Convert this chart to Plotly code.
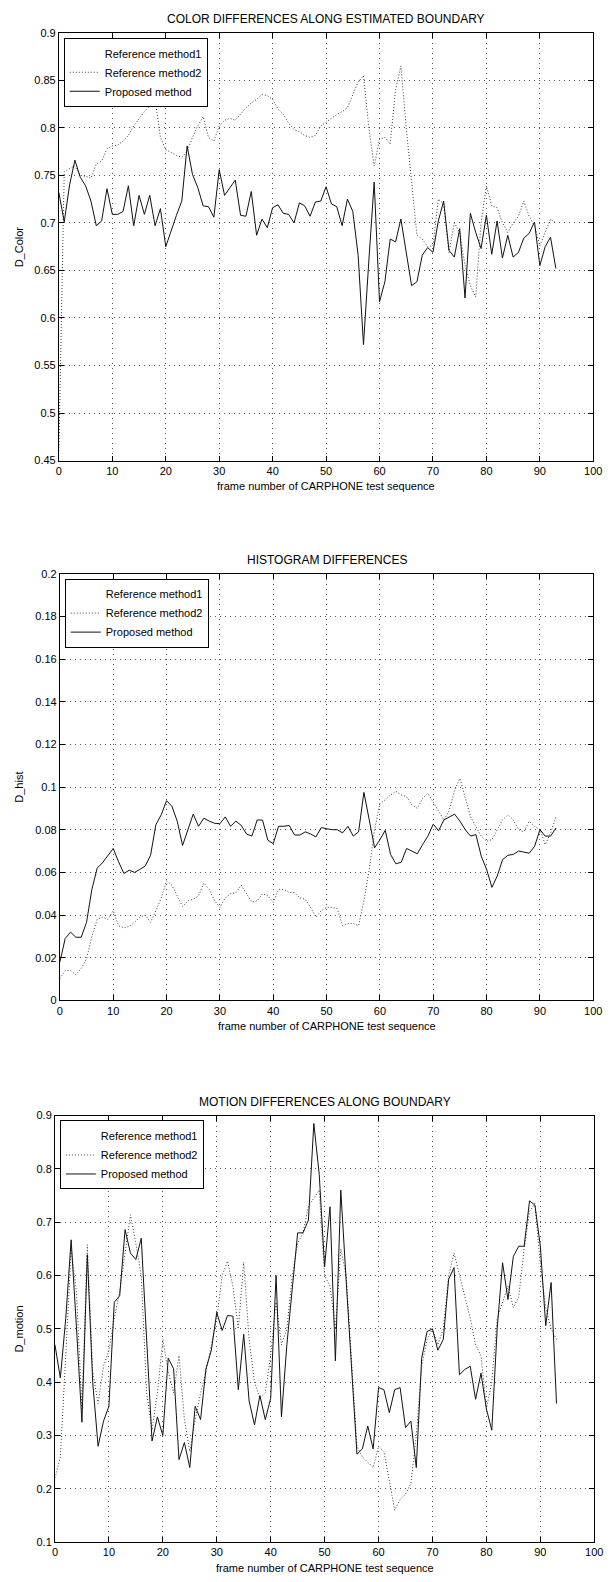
import plotly.graph_objects as go

frames = list(range(94))

color_prop = [0.732, 0.701, 0.740, 0.766, 0.748, 0.739, 0.723, 0.697, 0.702, 0.736,
              0.709, 0.709, 0.712, 0.739, 0.697, 0.729, 0.709, 0.729, 0.697, 0.715,
              0.675, 0.692, 0.708, 0.723, 0.781, 0.751, 0.737, 0.718, 0.717, 0.706,
              0.756, 0.729, 0.737, 0.745, 0.708, 0.707, 0.733, 0.687, 0.704, 0.695,
              0.716, 0.719, 0.710, 0.709, 0.700, 0.721, 0.718, 0.707, 0.722, 0.723,
              0.738, 0.720, 0.717, 0.697, 0.725, 0.712, 0.666, 0.572, 0.660, 0.743,
              0.617, 0.638, 0.683, 0.680, 0.704, 0.669, 0.634, 0.638, 0.666, 0.674,
              0.669, 0.702, 0.723, 0.671, 0.664, 0.694, 0.621, 0.710, 0.690, 0.673,
              0.708, 0.667, 0.702, 0.663, 0.687, 0.664, 0.669, 0.684, 0.689, 0.701,
              0.655, 0.675, 0.685, 0.652]
color_ref2 = [0.460, 0.754, 0.757, 0.760, 0.750, 0.749, 0.747, 0.762, 0.765, 0.778,
              0.781, 0.782, 0.786, 0.792, 0.802, 0.810, 0.817, 0.823, 0.830, 0.790,
              0.777, 0.774, 0.771, 0.769, 0.775, 0.790, 0.802, 0.812, 0.790, 0.786,
              0.802, 0.808, 0.810, 0.808, 0.815, 0.821, 0.826, 0.830, 0.835, 0.834,
              0.830, 0.820, 0.814, 0.805, 0.798, 0.796, 0.792, 0.790, 0.792, 0.802,
              0.806, 0.810, 0.814, 0.817, 0.821, 0.835, 0.848, 0.855, 0.800, 0.760,
              0.788, 0.790, 0.783, 0.840, 0.865, 0.800, 0.740, 0.687, 0.683, 0.675,
              0.676, 0.725, 0.720, 0.669, 0.700, 0.690, 0.655, 0.634, 0.622, 0.700,
              0.739, 0.718, 0.716, 0.700, 0.690, 0.700, 0.707, 0.723, 0.707, 0.697,
              0.676, 0.690, 0.704, 0.700]

hist_prop = [0.018, 0.029, 0.032, 0.0296, 0.0296, 0.0366, 0.052, 0.062, 0.0645, 0.0676,
             0.0712, 0.065, 0.0595, 0.061, 0.060, 0.0614, 0.063, 0.068, 0.0823, 0.087,
             0.0936, 0.091, 0.084, 0.0726, 0.080, 0.0873, 0.0816, 0.0854, 0.084, 0.083,
             0.0828, 0.086, 0.0816, 0.084, 0.082, 0.078, 0.077, 0.0846, 0.0845, 0.075,
             0.0735, 0.0816, 0.0816, 0.082, 0.0775, 0.0775, 0.079, 0.078, 0.0766, 0.081,
             0.0805, 0.080, 0.080, 0.0785, 0.0816, 0.077, 0.079, 0.0975, 0.0846, 0.0715,
             0.0753, 0.0797, 0.0684, 0.064, 0.0648, 0.0712, 0.070, 0.0687, 0.073, 0.077,
             0.0826, 0.0795, 0.0846, 0.086, 0.0873, 0.084, 0.080, 0.077, 0.0777, 0.0676,
             0.0614, 0.053, 0.0583, 0.066, 0.068, 0.0684, 0.070, 0.0695, 0.069, 0.0722,
             0.080, 0.077, 0.077, 0.0808]
hist_ref2 = [0.0102, 0.014, 0.014, 0.012, 0.015, 0.0195, 0.030, 0.038, 0.039, 0.038,
             0.042, 0.035, 0.034, 0.0347, 0.0366, 0.039, 0.040, 0.0366, 0.042, 0.048,
             0.056, 0.054, 0.049, 0.044, 0.0467, 0.0474, 0.049, 0.055, 0.052, 0.0467,
             0.0436, 0.048, 0.050, 0.0505, 0.054, 0.050, 0.046, 0.0467, 0.050, 0.049,
             0.046, 0.052, 0.052, 0.0505, 0.0505, 0.048, 0.0474, 0.0436, 0.039, 0.042,
             0.0436, 0.0436, 0.043, 0.035, 0.036, 0.036, 0.035, 0.0467, 0.0614, 0.080,
             0.0924, 0.094, 0.0963, 0.098, 0.0963, 0.0955, 0.0916, 0.090, 0.0947, 0.097,
             0.093, 0.089, 0.0846, 0.089, 0.0986, 0.104, 0.0955, 0.086, 0.0815, 0.077,
             0.0746, 0.0753, 0.080, 0.0846, 0.087, 0.0846, 0.080, 0.079, 0.084, 0.0815,
             0.080, 0.073, 0.0785, 0.086]

motion_prop = [0.47, 0.408, 0.52, 0.667, 0.50, 0.325, 0.639, 0.40, 0.28, 0.327,
               0.355, 0.55, 0.562, 0.686, 0.642, 0.630, 0.670, 0.47, 0.29, 0.335,
               0.30, 0.445, 0.425, 0.255, 0.287, 0.24, 0.355, 0.33, 0.425, 0.46,
               0.531, 0.497, 0.525, 0.524, 0.386, 0.49, 0.365, 0.32, 0.375, 0.33,
               0.37, 0.60, 0.335, 0.47, 0.57, 0.68, 0.68, 0.704, 0.885, 0.79,
               0.617, 0.729, 0.44, 0.76, 0.59, 0.42, 0.265, 0.275, 0.318, 0.275,
               0.39, 0.386, 0.343, 0.386, 0.39, 0.315, 0.327, 0.24, 0.445, 0.495,
               0.50, 0.46, 0.48, 0.593, 0.615, 0.414, 0.424, 0.43, 0.368, 0.417,
               0.35, 0.31, 0.50, 0.624, 0.555, 0.636, 0.655, 0.655, 0.74, 0.732,
               0.655, 0.506, 0.587, 0.36]
motion_ref2 = [0.22, 0.26, 0.45, 0.65, 0.568, 0.35, 0.658, 0.42, 0.36, 0.43,
               0.46, 0.52, 0.57, 0.64, 0.714, 0.66, 0.60, 0.38, 0.31, 0.38,
               0.48, 0.42, 0.38, 0.45, 0.33, 0.27, 0.33, 0.38, 0.42, 0.47,
               0.52, 0.60, 0.627, 0.58, 0.50, 0.625, 0.48, 0.40, 0.37, 0.38,
               0.45, 0.55, 0.47, 0.50, 0.60, 0.66, 0.68, 0.73, 0.745, 0.76,
               0.60, 0.58, 0.50, 0.65, 0.60, 0.45, 0.28, 0.26, 0.25, 0.24,
               0.28, 0.27, 0.215, 0.16, 0.18, 0.19, 0.21, 0.30, 0.43, 0.48,
               0.50, 0.47, 0.50, 0.60, 0.642, 0.60, 0.56, 0.52, 0.47, 0.45,
               0.35, 0.40, 0.52, 0.55, 0.58, 0.54, 0.56, 0.65, 0.72, 0.735,
               0.62, 0.54, 0.50, 0.48]

# Reference method1 appears only in the legend (no visible curve in the figure)
ref1_x = [None]
ref1_y = [None]

x_ticks = [0, 10, 20, 30, 40, 50, 60, 70, 80, 90, 100]
y1_ticks = [0.45, 0.5, 0.55, 0.6, 0.65, 0.7, 0.75, 0.8, 0.85, 0.9]
y1_text = ["0.45", "0.5", "0.55", "0.6", "0.65", "0.7", "0.75", "0.8", "0.85", "0.9"]
y2_ticks = [0, 0.02, 0.04, 0.06, 0.08, 0.1, 0.12, 0.14, 0.16, 0.18, 0.2]
y2_text = ["0", "0.02", "0.04", "0.06", "0.08", "0.1", "0.12", "0.14", "0.16", "0.18", "0.2"]
y3_ticks = [0.1, 0.2, 0.3, 0.4, 0.5, 0.6, 0.7, 0.8, 0.9]
y3_text = ["0.1", "0.2", "0.3", "0.4", "0.5", "0.6", "0.7", "0.8", "0.9"]

titles = ["COLOR DIFFERENCES ALONG ESTIMATED BOUNDARY", "HISTOGRAM DIFFERENCES",
          "MOTION DIFFERENCES ALONG BOUNDARY"]
ylabels = ["D_Color", "D_hist", "D_motion"]
xlabel = "frame number of CARPHONE test sequence"
names = ["Reference method1", "Reference method2", "Proposed method"]

W, H = 616, 1582
FONT = "Liberation Sans, Arial, sans-serif"

# pixel boxes (left, right, top, bottom)
boxes = [(57, 602, 27, 458), (58, 602, 572, 1002), (53, 603, 1118, 1548)]

fig = go.Figure()
series = [(color_ref2, color_prop), (hist_ref2, hist_prop), (motion_ref2, motion_prop)]
yticks = [(y1_ticks, y1_text, [0.45, 0.9]), (y2_ticks, y2_text, [0, 0.2]), (y3_ticks, y3_text, [0.1, 0.9])]

for i, (ref2, prop) in enumerate(series):
    xa = "x" if i == 0 else f"x{i+1}"
    ya = "y" if i == 0 else f"y{i+1}"
    lg = "legend" if i == 0 else f"legend{i+1}"
    fig.add_trace(go.Scatter(x=ref1_x, y=ref1_y, mode="lines", name=names[0],
                             line=dict(color="rgba(0,0,0,0)", width=1),
                             xaxis=xa, yaxis=ya, legend=lg, showlegend=True))
    fig.add_trace(go.Scatter(x=frames, y=ref2, mode="lines", name=names[1],
                             line=dict(color="#3a3a3a", width=1, dash="1px,2px"),
                             xaxis=xa, yaxis=ya, legend=lg))
    fig.add_trace(go.Scatter(x=frames, y=prop, mode="lines", name=names[2],
                             line=dict(color="#111111", width=1),
                             xaxis=xa, yaxis=ya, legend=lg))

layout = dict(width=W, height=H, margin=dict(l=0, r=0, t=0, b=0),
              paper_bgcolor="white", plot_bgcolor="white",
              font=dict(family=FONT, size=11, color="black"))

annotations = []
for i, (l, r, t, b) in enumerate(boxes):
    xk = "xaxis" if i == 0 else f"xaxis{i+1}"
    yk = "yaxis" if i == 0 else f"yaxis{i+1}"
    lk = "legend" if i == 0 else f"legend{i+1}"
    yanchor_name = "y" if i == 0 else f"y{i+1}"
    xanchor_name = "x" if i == 0 else f"x{i+1}"
    yt, ytxt, yr = yticks[i]
    common = dict(showline=True, linecolor="black", linewidth=1, mirror="ticks",
                  ticks="inside", ticklen=5, tickcolor="black",
                  showgrid=True, gridcolor="#555555", gridwidth=1, griddash="1px,4px",
                  zeroline=False, tickfont=dict(family=FONT, size=11, color="black"))
    layout[xk] = dict(domain=[l / W, r / W], range=[0, 100], tickvals=x_ticks,
                      anchor=yanchor_name, **common)
    layout[yk] = dict(domain=[1 - b / H, 1 - t / H], range=yr, tickvals=yt, ticktext=ytxt,
                      anchor=xanchor_name, **common)
    layout[lk] = dict(x=(l + 5) / W, y=1 - (t + 5) / H, xanchor="left", yanchor="top",
                      bgcolor="white", bordercolor="black", borderwidth=1,
                      font=dict(family=FONT, size=11, color="black"),
                      tracegroupgap=0, itemwidth=30)
    cx = (l + r) / 2 / W
    annotations.append(dict(text=titles[i], x=cx, y=1 - (t - 14) / H, xref="paper", yref="paper",
                            xanchor="center", yanchor="middle",
                            showarrow=False, font=dict(family=FONT, size=12)))
    annotations.append(dict(text=xlabel, x=cx, y=1 - (b + 26) / H, xref="paper",
                            yref="paper", xanchor="center", yanchor="middle",
                            showarrow=False, font=dict(family=FONT, size=11)))
    annotations.append(dict(text=ylabels[i], x=16 / W, y=1 - (t + b) / 2 / H, xref="paper",
                            yref="paper", xanchor="center", yanchor="middle",
                            textangle=-90, showarrow=False,
                            font=dict(family=FONT, size=11)))
layout["annotations"] = annotations
fig.update_layout(**layout)
fig.write_html("out.html", config={"displayModeBar": False},
               post_script="document.body.style.margin='0';document.body.style.overflow='hidden';")
